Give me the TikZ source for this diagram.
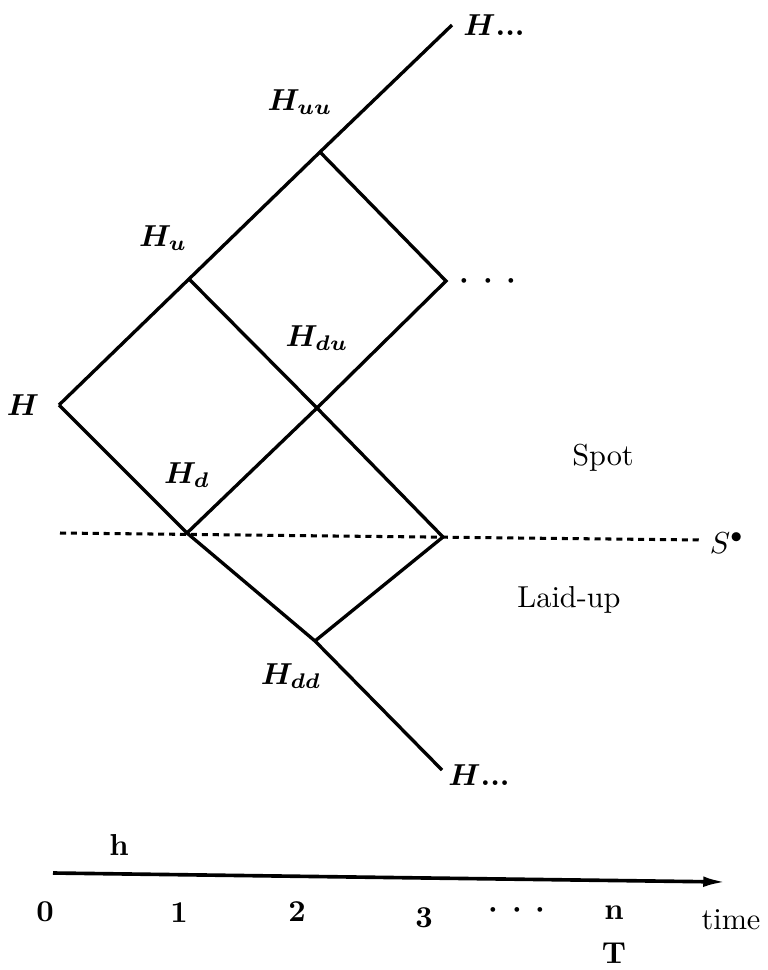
\documentclass[tikz,border=0pt]{standalone}
\usepackage{tikz}
\usetikzlibrary{arrows.meta,positioning}

\newcommand{\wdots}{${\cdot}\mkern7mu{\cdot}\mkern7mu{\cdot}$}

\begin{document}
\begin{tikzpicture}[x=0.33pt,y=-0.33pt,
    branch/.style={line width=1.1pt,line join=miter},
    level/.style={line width=1pt,dash pattern=on 2pt off 1.6pt},
    lbl/.style={font=\bfseries\boldmath},
    tick/.style={font=\bfseries\boldmath}]
    \useasboundingbox (0,0) rectangle (768,970);
    % lattice points
    \coordinate (h0)   at (59,405);
    \coordinate (hu)   at (189,279);
    \coordinate (huu)  at (320,152);
    \coordinate (huuu) at (452,25);
    \coordinate (hd)   at (187,533);
    \coordinate (hdu)  at (317,408);
    \coordinate (hduu) at (446,281);
    \coordinate (hdd)  at (315,641);
    \coordinate (hddu) at (443,537);
    \coordinate (hddd) at (442,770);
    % tree
    \draw[branch] (h0) -- (hu) -- (huu) -- (huuu);
    \draw[branch] (hd) -- (hdu) -- (hduu) -- (huu);
    \draw[branch] (hu) -- (hdu) -- (hddu) -- (hdd);
    \draw[branch] (h0) -- (hd) -- (hdd) -- (hddd);
    % spot / laid-up boundary
    \coordinate (sl) at (60,533);
    \coordinate (sr) at (702,540);
    \draw[level] (sl) -- (sr);
    \node (sstar) at (727,543) {$S^{\bullet}$};
    \node (spot) at (603,458) {Spot};
    \node (laid) at (569,600) {Laid-up};
    % labels
    \node[lbl] (lh)    at (23,405)  {$H$};
    \node[lbl] (lhu)   at (163,238) {$H_u$};
    \node[lbl] (lhuu)  at (300,102) {$H_{uu}$};
    \node[lbl] (ltop)  at (494,25)  {$H$...};
    \node[lbl] (ldots) at (488,281) {\wdots};
    \node[lbl] (lhdu)  at (317,338) {$H_{du}$};
    \node[lbl] (lhd)   at (187,475) {$H_d$};
    \node[lbl] (lhdd)  at (291,676) {$H_{dd}$};
    \node[lbl] (lbot)  at (479,775) {$H$...};
    % time axis
    \coordinate (t0) at (53,873);
    \coordinate (t1) at (726,882);
    \draw[line width=1.2pt,-{Latex[length=7.5pt,width=3.5pt]}] (t0) -- (t1);
    \node[tick] (hlen) at (119,845) {h};
    \node[tick] (n0) at (45,912)  {0};
    \node[tick] (n1) at (179,913) {1};
    \node[tick] (n2) at (297,912) {2};
    \node[tick] (n3) at (424,918) {3};
    \node[tick] (ndots) at (517,910) {\wdots};
    \node[tick] (nn) at (614,913) {n};
    \node[tick,below=0.5pt of nn] (nT) {T};
    \node (ntime) at (731,920) {time};
\end{tikzpicture}
\end{document}
